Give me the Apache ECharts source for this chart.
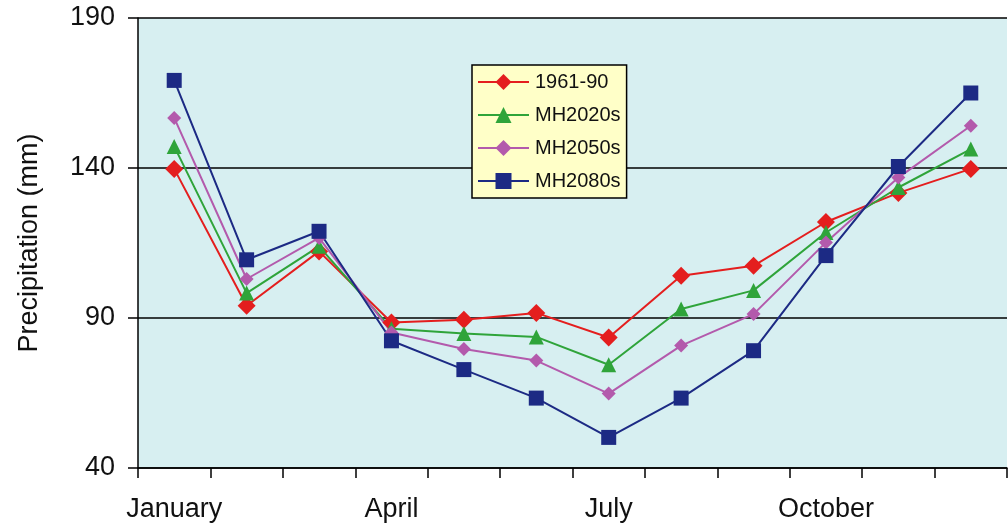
<!DOCTYPE html>
<html><head><meta charset="utf-8">
<script src="https://cdn.jsdelivr.net/npm/echarts@6/dist/echarts.min.js"></script>
<style>html,body{margin:0;padding:0;background:#fff}#c{width:1008px;height:528px}</style>
</head><body><div id="c"></div>
<script>
const months = ['January','February','March','April','May','June','July','August','September','October','November','December'];
const s1961 = [139.7, 94.1, 112.2, 88.5, 89.4, 91.7, 83.5, 104.1, 107.4, 122.0, 131.7, 139.7];
const s2020 = [147.2, 98.3, 113.9, 86.4, 84.8, 83.7, 74.4, 93.0, 99.2, 118.5, 133.5, 146.3];
const s2050 = [156.7, 103.0, 116.7, 85.2, 79.7, 75.8, 64.8, 80.8, 91.3, 115.2, 136.8, 154.1];
const s2080 = [169.2, 109.4, 118.9, 82.4, 72.8, 63.3, 50.2, 63.3, 79.1, 110.8, 140.5, 165.0];
const yTicks = [40, 90, 140, 190];

const font = 'Liberation Sans, Arial, sans-serif';
function ser(name, data, color, symbol, size) {
  return {name, type:'line', data, symbol, symbolSize:size, showSymbol:true,
    lineStyle:{color, width:2}, itemStyle:{color, borderWidth:0}, z:3};
}
const chart = echarts.init(document.getElementById('c'));
chart.setOption({
  animation:false,
  grid:{left:138, top:18, right:1, bottom:60, show:true, backgroundColor:'#d7eff1', borderWidth:0},
  legend:{orient:'vertical', left:472, top:65, padding:[7,6,7,5], itemGap:13,
    backgroundColor:'#ffffc8', borderColor:'#000', borderWidth:1.5, borderRadius:0,
    itemWidth:51, itemHeight:20, textStyle:{fontFamily:font, fontSize:20, color:'#111', padding:[0,0,0,1]}},
  xAxis:{type:'category', data:months, boundaryGap:true,
    axisLine:{lineStyle:{color:'#000', width:1.5}},
    axisTick:{show:true, interval:0, length:10, lineStyle:{color:'#000', width:1.5}},
    axisLabel:{interval:2, fontFamily:font, fontSize:27, color:'#111', margin:28},
    splitLine:{show:false}},
  yAxis:{type:'value', min:yTicks[0], max:yTicks[yTicks.length-1], interval:50,
    name:'Precipitation (mm)', nameLocation:'middle', nameGap:95, nameRotate:90,
    nameTextStyle:{fontFamily:font, fontSize:27, color:'#111'},
    axisLine:{show:true, lineStyle:{color:'#000', width:1.5}},
    axisTick:{show:true, length:10, lineStyle:{color:'#000', width:1.5}},
    axisLabel:{fontFamily:font, fontSize:27, color:'#111', margin:23},
    splitLine:{show:true, lineStyle:{color:'#000', width:1.5}}},
  series:[
    ser('1961-90', s1961, '#e41e1e', 'diamond', 18),
    ser('MH2020s', s2020, '#2fa43a', 'triangle', 15),
    ser('MH2050s', s2050, '#b35aac', 'diamond', 14),
    ser('MH2080s', s2080, '#1c2a84', 'rect', 15)
  ]
});
</script></body></html>
